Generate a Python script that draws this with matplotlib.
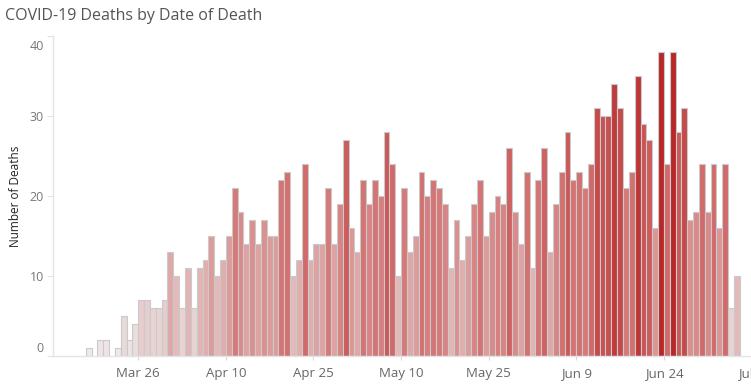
import matplotlib
matplotlib.use('Agg')
import matplotlib.pyplot as plt
import matplotlib.dates as mdates
from matplotlib.transforms import ScaledTranslation
import numpy as np
import pandas as pd

# ---------------- data ----------------
start_date = '2020-03-17'
deaths = [1, 0, 2, 2, 0, 1, 5, 2, 4, 7, 7, 6, 6, 7, 13,                      # Mar 17-31
          10, 6, 11, 6, 11, 12, 15, 10, 12, 15, 21, 18, 14, 17, 14, 17, 15, 15,
          22, 23, 10, 12, 24, 12, 14, 14, 21, 14, 19, 27,                     # Apr
          16, 13, 22, 19, 22, 20, 28, 24, 10, 21, 13, 15, 23, 20, 22, 21, 19, 11,
          17, 12, 15, 19, 22, 15, 18, 20, 19, 26, 18, 14, 23,                 # May
          11, 22, 26, 13, 19, 23, 28, 22, 23, 21, 24, 31, 30, 30, 34, 31, 21, 23,
          35, 29, 27, 16, 38, 24, 38, 28, 31, 17, 18, 24,                     # Jun
          18, 24, 16, 24, 6, 10]                                              # Jul 1-6
tick_dates = ['2020-03-26', '2020-04-10', '2020-04-25', '2020-05-10',
              '2020-05-25', '2020-06-09', '2020-06-24', '2020-07-09']
tick_labels = ['Mar 26', 'Apr 10', 'Apr 25', 'May 10', 'May 25', 'Jun 9', 'Jun 24', 'Jul 9']
y_ticks = [0, 10, 20, 30, 40]

dates = pd.date_range(start_date, periods=len(deaths), freq='D')
vals = np.array(deaths, dtype=float)

# colour scale (value -> colour)
anchor_v = [0, 5, 10, 15, 20, 25, 30, 38]
anchor_c = ['#efeded', '#e9d9d9', '#e3baba', '#dd9c9c', '#d77e7e', '#d06666', '#c75050', '#b82828']
rgb = np.array([matplotlib.colors.to_rgb(c) for c in anchor_c])
colors = [tuple(np.interp(v, anchor_v, rgb[:, k]) for k in range(3)) for v in vals]

# ---------------- figure ----------------
W, H = 751, 384
fig = plt.figure(figsize=(W / 100, H / 100), dpi=100)
x0_px, x1_px, yb_px, yt_px = 53, 760, 356, 36
ax = fig.add_axes([x0_px / W, (H - yb_px) / H, (x1_px - x0_px) / W, (yb_px - yt_px) / H])

ref = mdates.date2num(pd.Timestamp('2020-03-26'))
px_per_day = 5.84
ax.set_xlim(ref - (138.3 - x0_px) / px_per_day, ref + (x1_px - 138.3) / px_per_day)
ax.set_ylim(0, 40)

ax.bar(mdates.date2num(dates), vals, width=1.0, align='edge', color=colors,
       edgecolor='#cacaca', linewidth=0.8, zorder=2)

for s in ['top', 'right']:
    ax.spines[s].set_visible(False)
for s in ['left', 'bottom']:
    ax.spines[s].set_color('#e4e4e4')
    ax.spines[s].set_linewidth(1.0)

ax.set_xticks(mdates.date2num(pd.to_datetime(tick_dates)))
ax.set_xticklabels(tick_labels)
ax.set_yticks(y_ticks)
ax.set_yticklabels([str(t) for t in y_ticks])

ax.tick_params(axis='x', length=3, color='#d8d8d8', labelcolor='#666666',
               labelsize=9.5, pad=5)
ax.tick_params(axis='y', length=4, color='#e4e4e4', labelcolor='#777777',
               labelsize=9, pad=2.5)
for lab in ax.get_xticklabels() + ax.get_yticklabels():
    lab.set_fontfamily('Open Sans')

# Tableau nudges the extreme labels inside the axis range
ylabs = ax.get_yticklabels()
ylabs[0].set_transform(ylabs[0].get_transform() + ScaledTranslation(0, 0.09, fig.dpi_scale_trans))
ylabs[-1].set_transform(ylabs[-1].get_transform() + ScaledTranslation(0, -0.09, fig.dpi_scale_trans))

ax.set_ylabel('Number of Deaths', fontsize=8.5, color='#222222', family='Open Sans')
ax.yaxis.set_label_coords((22.5 - x0_px) / (x1_px - x0_px), 0.5)

fig.text(5 / W, 1 - 16 / H, 'COVID-19 Deaths by Date of Death', fontsize=11.5,
         color='#555555', va='center', ha='left', family='Open Sans')

fig.savefig('out.png', dpi=100)
